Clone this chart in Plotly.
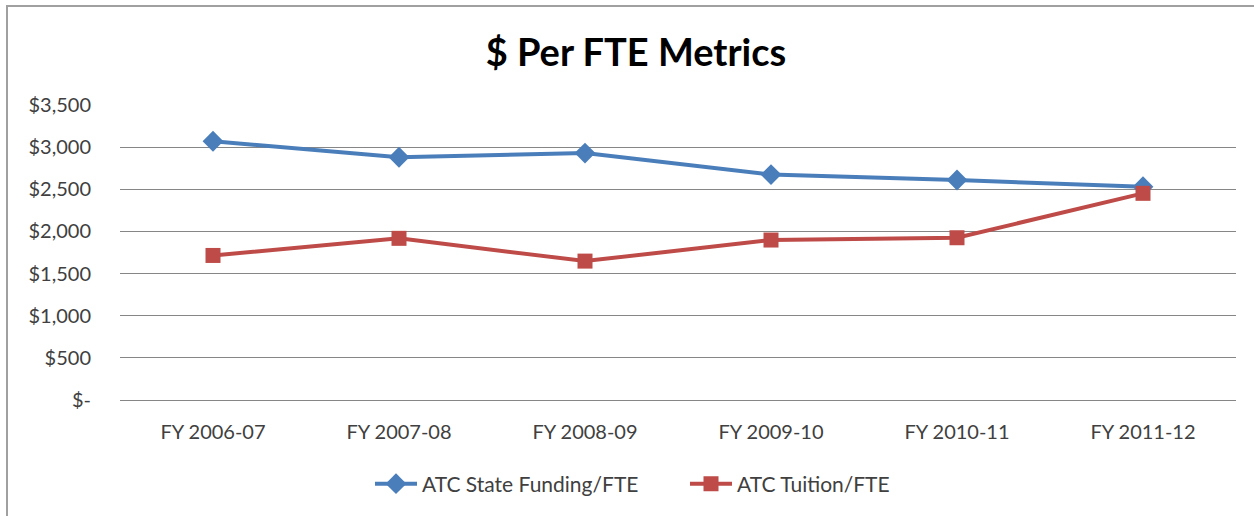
import plotly.graph_objects as go

categories = ["FY 2006-07", "FY 2007-08", "FY 2008-09", "FY 2009-10", "FY 2010-11", "FY 2011-12"]
state_funding = [3070, 2880, 2930, 2675, 2610, 2530]
tuition = [1715, 1918, 1648, 1898, 1925, 2452]
y_tickvals = [0, 500, 1000, 1500, 2000, 2500, 3000, 3500]
y_ticktext = ["$-", "$500", "$1,000", "$1,500", "$2,000", "$2,500", "$3,000", "$3,500"]

FONT = "Lato, Carlito, Calibri, sans-serif"

fig = go.Figure()
fig.add_trace(go.Scatter(
    x=categories, y=state_funding, name="ATC State Funding/FTE",
    mode="lines+markers",
    line=dict(color="#4a7ebb", width=4),
    marker=dict(symbol="diamond", size=16, color="#4a7ebb"),
))
fig.add_trace(go.Scatter(
    x=categories, y=tuition, name="ATC Tuition/FTE",
    mode="lines+markers",
    line=dict(color="#be4b48", width=4),
    marker=dict(symbol="square", size=15, color="#be4b48"),
))

L, R, T, B = 120, 18, 105, 116
W, H = 1254, 516
pw, ph = W - L - R, H - T - B

def px_x(px):
    return (px - L) / pw

def px_y(py):
    return (H - B - py) / ph

fig.update_layout(
    width=W, height=H, autosize=False,
    margin=dict(l=L, r=R, t=T, b=B, pad=0),
    paper_bgcolor="white", plot_bgcolor="white",
    font=dict(family=FONT, color="#404040", size=20),
    title=dict(text="<b>$ Per FTE Metrics</b>", x=636 / W, xanchor="center",
               y=1 - 53 / H, yanchor="middle",
               font=dict(family=FONT, size=38, color="#000000")),
    showlegend=True,
    legend=dict(orientation="h", x=px_x(370), xanchor="left", y=px_y(484), yanchor="middle",
                font=dict(family=FONT, size=21, color="#404040"),
                itemwidth=42, entrywidth=258, traceorder="normal", bgcolor="rgba(0,0,0,0)"),
    xaxis=dict(type="category", range=[-0.5, 5.5], showgrid=False, zeroline=False,
               showline=False, ticks="", ticklabelstandoff=18,
               tickfont=dict(family=FONT, size=20, color="#404040")),
    yaxis=dict(range=[0, 3500], tickvals=y_tickvals, ticktext=y_ticktext,
               showgrid=True, gridcolor="#868686", gridwidth=1,
               zeroline=True, zerolinecolor="#868686", zerolinewidth=1,
               showline=False, ticks="", ticklabelstandoff=28,
               tickfont=dict(family=FONT, size=20, color="#404040")),
    shapes=[dict(type="rect", xref="paper", yref="paper",
                 x0=px_x(7), x1=px_x(1270), y0=px_y(530), y1=px_y(6),
                 line=dict(color="#a0a0a0", width=2), fillcolor="rgba(0,0,0,0)",
                 layer="below")],
)

fig.write_html("out.html", config={"displayModeBar": False},
               post_script="document.body.style.margin='0';document.body.style.overflow='hidden';")
